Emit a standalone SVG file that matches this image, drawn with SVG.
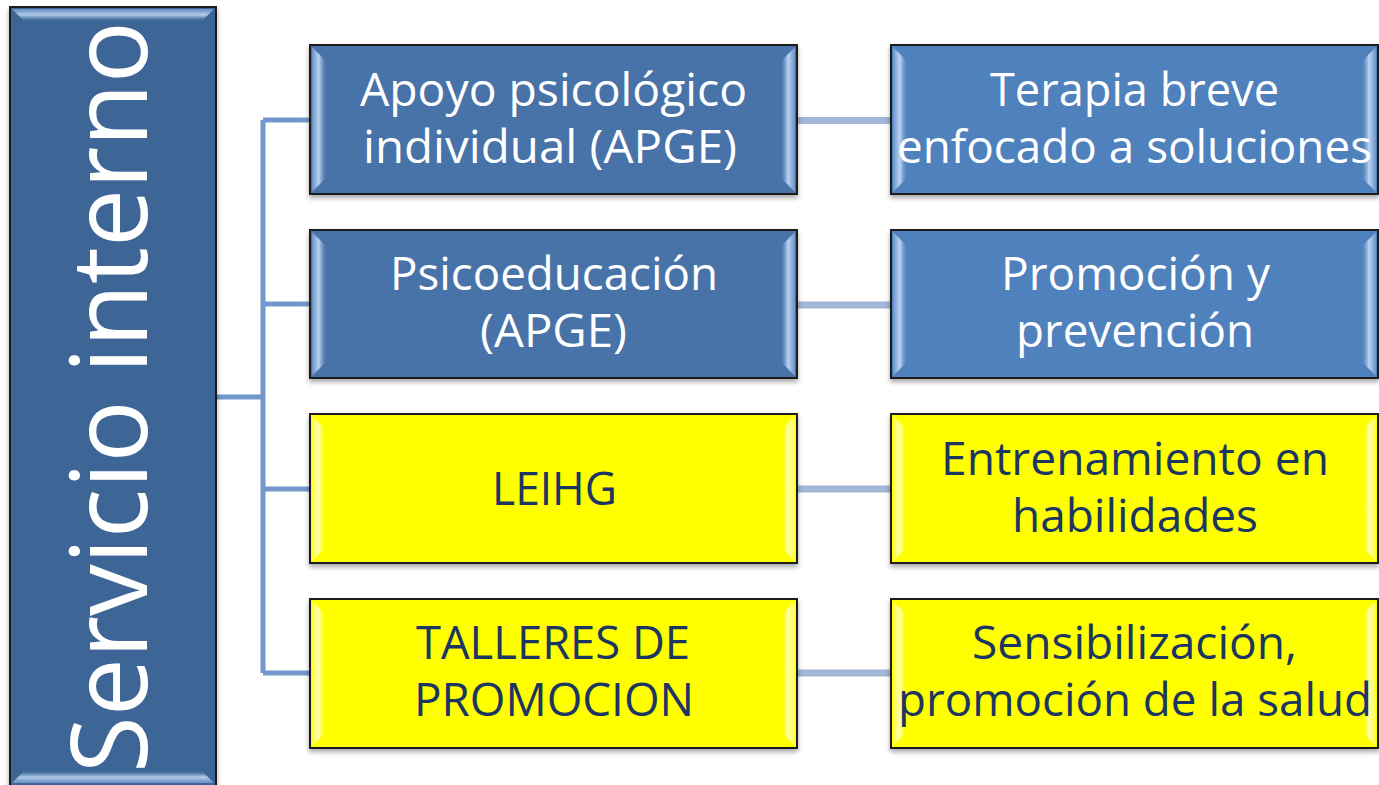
<svg xmlns="http://www.w3.org/2000/svg" width="1379" height="785" viewBox="0 0 1379 785">
<style>
.txt{font-family:"Open Sans","Noto Sans","DejaVu Sans",sans-serif;font-size:46px;text-anchor:middle}
.w{fill:#ffffff}
.d{fill:#1b3660}
.bx{stroke:#1a1a1a;stroke-width:2}
.mid{fill:#4673a8}
.rt{fill:#4f81bd}
.yl{fill:#ffff00}
.c1{stroke:#7298cb;stroke-width:5;fill:none}
.c2{stroke:#a3b6d8;stroke-width:7;fill:none}
</style>
<defs>
<filter id="sh" x="-5%" y="-5%" width="110%" height="120%">
<feDropShadow dx="0" dy="3" stdDeviation="2.5" flood-color="#000" flood-opacity="0.35"/>
</filter>
<linearGradient id="bvL" x1="0" y1="0" x2="1" y2="0">
<stop offset="0" stop-color="#6f98cf"/><stop offset="0.5" stop-color="#cfe3fb"/><stop offset="1" stop-color="#7fa5d6" stop-opacity="0"/>
</linearGradient>
<linearGradient id="bvR" x1="1" y1="0" x2="0" y2="0">
<stop offset="0" stop-color="#6f98cf"/><stop offset="0.5" stop-color="#cfe3fb"/><stop offset="1" stop-color="#7fa5d6" stop-opacity="0"/>
</linearGradient>
<linearGradient id="bvT" x1="0" y1="0" x2="0" y2="1">
<stop offset="0" stop-color="#6f98cf"/><stop offset="0.5" stop-color="#cfe3fb"/><stop offset="1" stop-color="#7fa5d6" stop-opacity="0"/>
</linearGradient>
<linearGradient id="bvB" x1="0" y1="1" x2="0" y2="0">
<stop offset="0" stop-color="#6f98cf"/><stop offset="0.5" stop-color="#cfe3fb"/><stop offset="1" stop-color="#7fa5d6" stop-opacity="0"/>
</linearGradient>
<linearGradient id="yvL" x1="0" y1="0" x2="1" y2="0">
<stop offset="0" stop-color="#ffff40"/><stop offset="0.5" stop-color="#ffffc8"/><stop offset="1" stop-color="#ffff00" stop-opacity="0"/>
</linearGradient>
<linearGradient id="yvR" x1="1" y1="0" x2="0" y2="0">
<stop offset="0" stop-color="#ffff40"/><stop offset="0.5" stop-color="#ffffc8"/><stop offset="1" stop-color="#ffff00" stop-opacity="0"/>
</linearGradient>
</defs>
<rect width="1379" height="785" fill="#ffffff"/>

<g id="connectors">
<path class="c1" d="M216 397 H263 M263 120 V673 M263 120 H310 M263 304 H310 M263 489 H310 M263 673 H310"/>
<path class="c2" d="M797 120.5 H891 M797 305 H891 M797 489 H891 M797 673 H891"/>
</g>

<g id="node-servicio">
<rect class="bx" x="10" y="7" width="206" height="780" fill="#3c6595" filter="url(#sh)"/>
<polygon points="12,9 214,9 202,21 24,21" fill="url(#bvT)" opacity="0.8"/>
<polygon points="12,783 214,783 202,771 24,771" fill="url(#bvB)" opacity="0.8"/>
<text class="txt w" transform="translate(147,397) rotate(-90)" style="font-size:106px" textLength="752" lengthAdjust="spacingAndGlyphs">Servicio interno</text>
</g>

<g id="node-apoyo">
<rect class="bx mid" x="310" y="45" width="487" height="149" filter="url(#sh)"/>
<polygon points="312,47 326,61 326,178 312,192" fill="url(#bvL)" opacity="0.85"/>
<polygon points="795,47 781,61 781,178 795,192" fill="url(#bvR)" opacity="0.85"/>
<text class="txt w" x="553.5" y="106" textLength="387" lengthAdjust="spacingAndGlyphs">Apoyo psicológico</text>
<text class="txt w" x="550" y="163" textLength="374" lengthAdjust="spacingAndGlyphs">individual (APGE)</text>
</g>

<g id="node-psicoeducacion">
<rect class="bx mid" x="310" y="230" width="487" height="148" filter="url(#sh)"/>
<polygon points="312,232 326,246 326,362 312,376" fill="url(#bvL)" opacity="0.85"/>
<polygon points="795,232 781,246 781,362 795,376" fill="url(#bvR)" opacity="0.85"/>
<text class="txt w" x="554" y="290" textLength="328" lengthAdjust="spacingAndGlyphs">Psicoeducación</text>
<text class="txt w" x="553.5" y="347" textLength="147" lengthAdjust="spacingAndGlyphs">(APGE)</text>
</g>

<g id="node-leihg">
<rect class="bx yl" x="310" y="414" width="487" height="149" filter="url(#sh)"/>
<polygon points="312,416 326,430 326,547 312,561" fill="url(#yvL)" opacity="0.9"/>
<polygon points="795,416 781,430 781,547 795,561" fill="url(#yvR)" opacity="0.9"/>
<text class="txt d" x="554.5" y="505" textLength="125" lengthAdjust="spacingAndGlyphs">LEIHG</text>
</g>

<g id="node-talleres">
<rect class="bx yl" x="310" y="599" width="487" height="149" filter="url(#sh)"/>
<polygon points="312,601 326,615 326,732 312,746" fill="url(#yvL)" opacity="0.9"/>
<polygon points="795,601 781,615 781,732 795,746" fill="url(#yvR)" opacity="0.9"/>
<text class="txt d" x="553" y="659" textLength="274" lengthAdjust="spacingAndGlyphs">TALLERES DE</text>
<text class="txt d" x="554" y="716" textLength="280" lengthAdjust="spacingAndGlyphs">PROMOCION</text>
</g>

<g id="node-terapia">
<rect class="bx rt" x="891" y="45" width="487" height="149" filter="url(#sh)"/>
<polygon points="893,47 907,61 907,178 893,192" fill="url(#bvL)" opacity="0.85"/>
<polygon points="1376,47 1362,61 1362,178 1376,192" fill="url(#bvR)" opacity="0.85"/>
<text class="txt w" x="1134.5" y="106" textLength="289" lengthAdjust="spacingAndGlyphs">Terapia breve</text>
<text class="txt w" x="1134.5" y="163" textLength="475" lengthAdjust="spacingAndGlyphs">enfocado a soluciones</text>
</g>

<g id="node-promocion">
<rect class="bx rt" x="891" y="230" width="487" height="148" filter="url(#sh)"/>
<polygon points="893,232 907,246 907,362 893,376" fill="url(#bvL)" opacity="0.85"/>
<polygon points="1376,232 1362,246 1362,362 1376,376" fill="url(#bvR)" opacity="0.85"/>
<text class="txt w" x="1135.5" y="290" textLength="269" lengthAdjust="spacingAndGlyphs">Promoción y</text>
<text class="txt w" x="1135" y="347" textLength="238" lengthAdjust="spacingAndGlyphs">prevención</text>
</g>

<g id="node-entrenamiento">
<rect class="bx yl" x="891" y="414" width="487" height="149" filter="url(#sh)"/>
<polygon points="893,416 907,430 907,547 893,561" fill="url(#yvL)" opacity="0.9"/>
<polygon points="1376,416 1362,430 1362,547 1376,561" fill="url(#yvR)" opacity="0.9"/>
<text class="txt d" x="1135" y="475" textLength="388" lengthAdjust="spacingAndGlyphs">Entrenamiento en</text>
<text class="txt d" x="1135" y="532" textLength="246" lengthAdjust="spacingAndGlyphs">habilidades</text>
</g>

<g id="node-sensibilizacion">
<rect class="bx yl" x="891" y="599" width="487" height="149" filter="url(#sh)"/>
<polygon points="893,601 907,615 907,732 893,746" fill="url(#yvL)" opacity="0.9"/>
<polygon points="1376,601 1362,615 1362,732 1376,746" fill="url(#yvR)" opacity="0.9"/>
<text class="txt d" x="1134.5" y="659" textLength="325" lengthAdjust="spacingAndGlyphs">Sensibilización,</text>
<text class="txt d" x="1135" y="716" textLength="474" lengthAdjust="spacingAndGlyphs">promoción de la salud</text>
</g>
</svg>
